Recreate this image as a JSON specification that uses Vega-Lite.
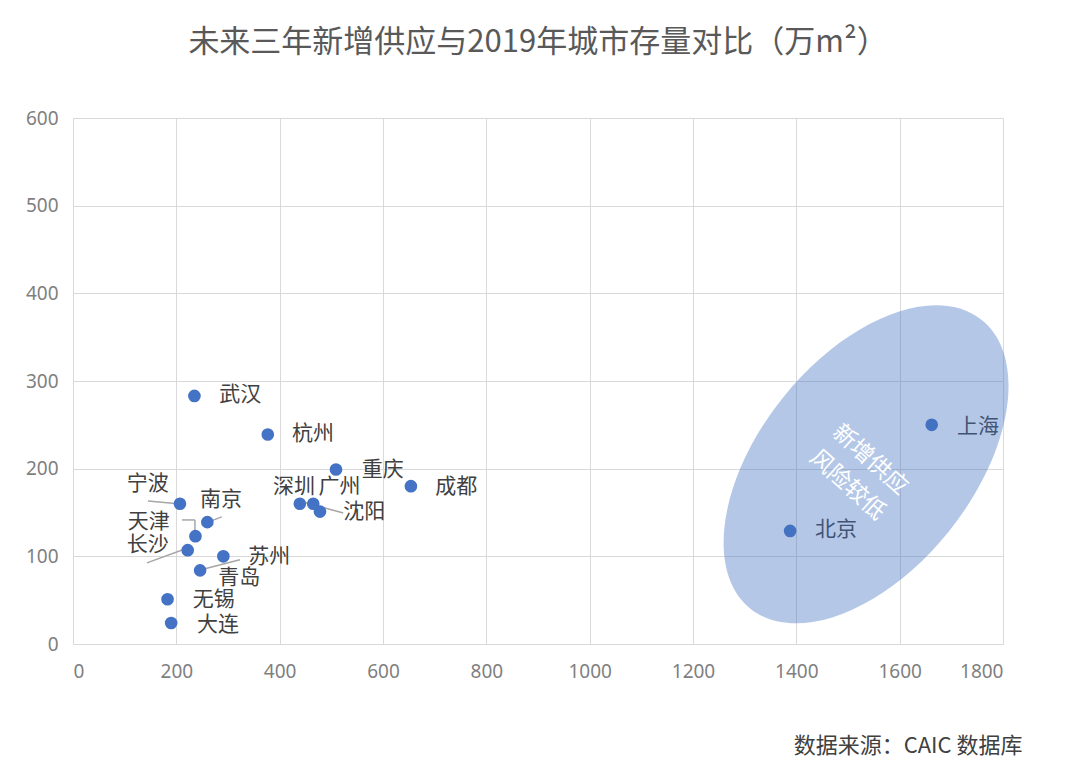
{
  "$schema": "https://vega.github.io/schema/vega-lite/v6.json",
  "width": 930,
  "height": 526,
  "autosize": "none",
  "padding": {"left": 73, "top": 118, "right": 77, "bottom": 128},
  "background": "white",
  "title": {
    "text": "未来三年新增供应与2019年城市存量对比（万m²）",
    "anchor": "middle",
    "fontSize": 31,
    "font": "Noto Sans CJK SC",
    "fontWeight": "normal",
    "color": "#595959",
    "offset": 50
  },
  "config": {
    "view": {"stroke": null},
    "axis": {
      "domain": false,
      "ticks": false,
      "grid": true,
      "gridColor": "#D9D9D9",
      "gridWidth": 1,
      "labelFont": "Noto Sans",
      "labelFontSize": 19,
      "labelColor": "#7F7F7F"
    }
  },
  "datasets": {
    "cities": [
      {"city": "武汉", "x": 235, "y": 283, "lx": 283, "ly": 284},
      {"city": "杭州", "x": 377, "y": 239, "lx": 424, "ly": 239.5},
      {"city": "重庆", "x": 509, "y": 199, "lx": 559, "ly": 199},
      {"city": "成都", "x": 654, "y": 180, "lx": 701, "ly": 179.5},
      {"city": "深圳", "x": 439, "y": 160, "lx": 387, "ly": 179},
      {"city": "广州", "x": 465, "y": 160, "lx": 475, "ly": 179},
      {"city": "沈阳", "x": 478, "y": 151, "lx": 523, "ly": 150.5},
      {"city": "宁波", "x": 207, "y": 160, "lx": 104, "ly": 183},
      {"city": "南京", "x": 260, "y": 139, "lx": 246, "ly": 164},
      {"city": "天津", "x": 237, "y": 123, "lx": 106, "ly": 139.5},
      {"city": "长沙", "x": 222, "y": 107, "lx": 104, "ly": 112.5},
      {"city": "苏州", "x": 291, "y": 100, "lx": 339, "ly": 99},
      {"city": "青岛", "x": 246, "y": 84, "lx": 281, "ly": 75},
      {"city": "无锡", "x": 183, "y": 51, "lx": 232, "ly": 50},
      {"city": "大连", "x": 190, "y": 24, "lx": 240, "ly": 22},
      {"city": "北京", "x": 1388, "y": 129, "lx": 1436, "ly": 130},
      {"city": "上海", "x": 1662, "y": 250, "lx": 1711, "ly": 247.5}
    ],
    "leaders": [
      {"x": 145, "y": 163, "x2": 203, "y2": 160},
      {"x": 261, "y": 139, "x2": 288, "y2": 145},
      {"x": 211, "y": 141.5, "x2": 236, "y2": 141.5},
      {"x": 236, "y": 141.5, "x2": 236, "y2": 124},
      {"x": 143, "y": 92.5, "x2": 222, "y2": 109.5},
      {"x": 246, "y": 84.5, "x2": 323, "y2": 96},
      {"x": 445, "y": 162, "x2": 523, "y2": 149.5}
    ],
    "zone": [
      {"x": 1535, "y": 205, "note": "新增供应\n风险较低"}
    ]
  },
  "layer": [
    {
      "data": {"name": "leaders"},
      "mark": {"type": "rule", "color": "#A6A6A6", "strokeWidth": 1.5},
      "encoding": {
        "x": {"field": "x", "type": "quantitative", "scale": {"domain": [0, 1800]},
          "axis": {"values": [0, 200, 400, 600, 800, 1000, 1200, 1400, 1600, 1800], "format": "d", "labelPadding": 18,
            "title": "数据来源：CAIC 数据库", "titleFont": "Noto Sans CJK SC", "titleFontSize": 22, "titleFontWeight": "normal",
            "titleColor": "#404040", "titleAlign": "right", "titleBaseline": "middle", "titleX": 949, "titleY": 101}},
        "y": {"field": "y", "type": "quantitative", "scale": {"domain": [0, 600]},
          "axis": {"values": [0, 100, 200, 300, 400, 500, 600], "labelPadding": 15, "title": null}},
        "x2": {"field": "x2"},
        "y2": {"field": "y2"}
      }
    },
    {
      "data": {"name": "cities"},
      "mark": {"type": "circle", "size": 160, "color": "#4472C4", "opacity": 1},
      "encoding": {
        "x": {"field": "x", "type": "quantitative"},
        "y": {"field": "y", "type": "quantitative"}
      }
    },
    {
      "data": {"name": "cities"},
      "mark": {"type": "text", "align": "left", "baseline": "middle", "font": "Noto Sans CJK SC", "fontSize": 21, "color": "#404040"},
      "encoding": {
        "x": {"field": "lx", "type": "quantitative"},
        "y": {"field": "ly", "type": "quantitative"},
        "text": {"field": "city"}
      }
    },
    {
      "data": {"name": "zone"},
      "mark": {"type": "point", "filled": true, "shape": "M -1 0 A 1 0.576 0 1 1 1 0 A 1 0.576 0 1 1 -1 0 Z", "size": 136900, "angle": 308.7, "color": "#4472C4", "opacity": 0.4, "strokeWidth": 0},
      "encoding": {
        "x": {"field": "x", "type": "quantitative"},
        "y": {"field": "y", "type": "quantitative"}
      }
    },
    {
      "data": {"name": "zone"},
      "mark": {"type": "text", "align": "center", "baseline": "middle", "angle": 42, "lineBreak": "\n", "lineHeight": 34, "font": "Noto Sans CJK SC", "fontSize": 23, "color": "white", "dy": -6},
      "encoding": {
        "x": {"field": "x", "type": "quantitative"},
        "y": {"field": "y", "type": "quantitative"},
        "text": {"field": "note"}
      }
    }
  ]
}
